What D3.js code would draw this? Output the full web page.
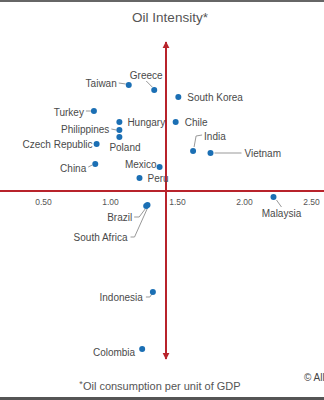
<!DOCTYPE html>
<html><head><meta charset="utf-8">
<script src="https://cdn.jsdelivr.net/npm/d3@7"></script>
<style>
html,body{margin:0;padding:0;background:#fff;}
svg{display:block;font-family:"Liberation Sans",Arial,sans-serif;}
</style></head>
<body>
<script>
// ---- data ----
const countries = ["Taiwan","Greece","Turkey","Hungary","Philippines","Poland","Czech Republic","China","Mexico","Peru","South Korea","Chile","India","Vietnam","Brazil","South Africa","Malaysia","Indonesia","Colombia"];
const xValues = [1.14,1.33,0.88,1.07,1.07,1.07,0.90,0.89,1.37,1.22,1.51,1.49,1.62,1.75,1.27,1.28,2.22,1.32,1.24];
const yValues = [10.6,10.1,8.0,6.9,6.1,5.4,4.7,2.7,2.4,1.3,9.4,6.9,4.0,3.8,-1.5,-1.4,-0.6,-10.1,-15.8];
const xTicks = [0.5,1.0,1.5,2.0,2.5];
const xCross = 1.418;
const yCross = 0;
const title = "Oil Intensity*";
const footnote = "Oil consumption per unit of GDP";
const credit = "© AllianceBernstein";

// ---- label layout (offsets from the dot) ----
const labelLayout = {
 "Taiwan":{dx:-12,dy:-2,a:"end",c:[[-10,-2],[-3,-1]]},
 "Greece":{dx:-8,dy:-15,a:"middle",c:[[-8,-9],[-2,-3]]},
 "Turkey":{dx:-10,dy:1,a:"end",c:[[-8,0],[-3,0]]},
 "Hungary":{dx:8,dy:0,a:"start"},
 "Philippines":{dx:-10,dy:-1,a:"end",c:[[-8,-1],[-3,0]]},
 "Poland":{dx:-10,dy:10,a:"start"},
 "Czech Republic":{dx:-4,dy:0,a:"end"},
 "China":{dx:-9,dy:4,a:"end",c:[[-7,3],[-3,1]]},
 "Mexico":{dx:-3,dy:-3,a:"end"},
 "Peru":{dx:8,dy:0,a:"start"},
 "South Korea":{dx:9,dy:0,a:"start"},
 "Chile":{dx:9,dy:0,a:"start"},
 "India":{dx:11,dy:-15,a:"start",c:[[1,-4],[3,-15],[9,-16]]},
 "Vietnam":{dx:34,dy:0,a:"start",c:[[4,0],[31,0]]},
 "Brazil":{dx:-14,dy:11,a:"end",c:[[-12,11],[-7,11],[-1,3]]},
 "South Africa":{dx:-20,dy:32,a:"end",c:[[-17,32],[-13,32],[0,3]]},
 "Malaysia":{dx:8,dy:16,a:"middle",c:[[3,3],[8,10]]},
 "Indonesia":{dx:-10,dy:5,a:"end",c:[[-7,5],[-3,5],[-1,2]]},
 "Colombia":{dx:-7,dy:3,a:"end"}
};

const W=324,H=400;
const svg=d3.select("body").append("svg").attr("width",W).attr("height",H);
const red="#b8232b", dotC="#1b6fb4", txt="#4a4a4a";

// borders
svg.append("rect").attr("x",0).attr("y",0).attr("width",W).attr("height",2).attr("fill","#666");
svg.append("rect").attr("x",0).attr("y",397).attr("width",W).attr("height",3).attr("fill","#555");

const x=d3.scaleLinear().domain([0.5,2.5]).range([43,311]);
const y=d3.scaleLinear().domain([-16.8,14.9]).range([359,42]);

const defs=svg.append("defs");
defs.append("marker").attr("id","arr").attr("viewBox","0 0 10 10").attr("refX",9).attr("refY",5)
 .attr("markerWidth",3.5).attr("markerHeight",4.5).attr("markerUnits","strokeWidth").attr("orient","auto")
 .append("path").attr("d","M0,0L10,5L0,10Z").attr("fill",red);

// title
svg.append("text").attr("x",170).attr("y",22).attr("text-anchor","middle")
 .attr("font-size",13.5).attr("fill","#555").text(title);

// horizontal axis line
svg.append("line").attr("x1",0).attr("x2",W).attr("y1",y(yCross)).attr("y2",y(yCross))
 .attr("stroke",red).attr("stroke-width",2);

// tick labels
const ax=svg.append("g").attr("transform",`translate(0,${y(yCross)})`)
 .call(d3.axisBottom(x).tickValues(xTicks).tickSize(0).tickPadding(8).tickFormat(d3.format(".2f")));
ax.select(".domain").remove();
ax.selectAll("text").attr("font-size",8.5).attr("fill","#555").attr("font-family","Liberation Sans, Arial, sans-serif");

// vertical axis with arrows
const vx=x(xCross);
svg.append("line").attr("x1",vx).attr("x2",vx).attr("y1",y(yCross)).attr("y2",y.range()[1])
 .attr("stroke",red).attr("stroke-width",2).attr("marker-end","url(#arr)");
svg.append("line").attr("x1",vx).attr("x2",vx).attr("y1",y(yCross)).attr("y2",y.range()[0])
 .attr("stroke",red).attr("stroke-width",2).attr("marker-end","url(#arr)");

// points
const data=countries.map((c,i)=>({c,xv:xValues[i],yv:yValues[i]}));
const g=svg.append("g");
data.forEach(d=>{
 const px=x(d.xv), py=y(d.yv), L=labelLayout[d.c];
 if(L.c){
  g.append("polyline").attr("points",L.c.map(p=>[px+p[0],py+p[1]].join(",")).join(" "))
   .attr("fill","none").attr("stroke","#999").attr("stroke-width",1);
 }
 g.append("text").attr("x",px+L.dx).attr("y",py+L.dy).attr("dy","0.35em")
  .attr("text-anchor",L.a).attr("font-size",10).attr("fill",txt).text(d.c);
});
g.selectAll("circle").data(data).join("circle")
 .attr("cx",d=>x(d.xv)).attr("cy",d=>y(d.yv)).attr("r",3).attr("fill",dotC);

// footnote
const fn=svg.append("text").attr("x",160).attr("y",390).attr("text-anchor","middle").attr("font-size",11).attr("fill","#555");
fn.append("tspan").attr("font-size",9).attr("dy",-3).text("*");
fn.append("tspan").attr("dy",3).text(footnote);

// credit
svg.append("text").attr("x",304).attr("y",381).attr("font-size",10).attr("fill","#444").text(credit);
</script>
</body></html>
